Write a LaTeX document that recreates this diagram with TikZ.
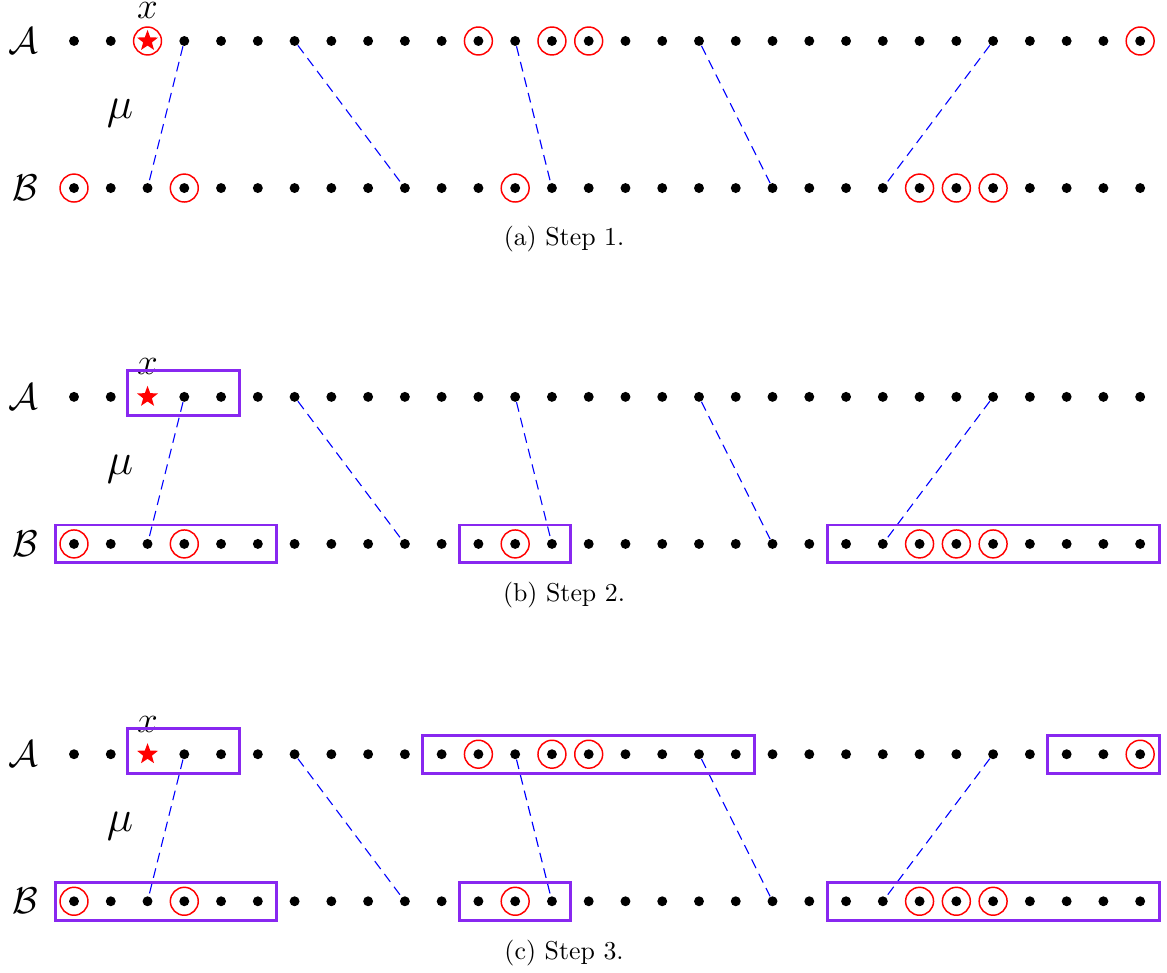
\documentclass[tikz,border=0pt]{standalone}
\usepackage{tikz}
\usetikzlibrary{calc,fit,shapes.geometric}
\definecolor{grpviolet}{RGB}{136,40,240}
\tikzset{
	pt/.style={circle, fill=black, inner sep=0pt, minimum size=0.135cm},
	ring/.style={circle, draw=red, line width=0.2mm, inner sep=0pt, minimum size=0.38cm},
	starpt/.style={star, star points=5, star point ratio=2.4, fill=red, inner sep=0pt, minimum size=0.3cm},
	match/.style={color=blue, line width=0.15mm, dash pattern=on 3.8pt off 2.4pt},
	grp/.style={draw=grpviolet, line width=0.4mm, inner sep=0.1825cm},
	setlbl/.style={font=\Large},
	ptlbl/.style={font=\Large, inner sep=0pt},
	maplbl/.style={font=\LARGE},
}

\begin{document}
\begin{tikzpicture}[x=0.5cm, y=0.5cm]
		%%%%% START %%%%%
		\useasboundingbox (-2.013, 1.115) rectangle (29.73, -25.33);
		
		\foreach \s/\y/\t in {1/0/a, 2/-9.68/b, 3/-19.4/c}{
			% the two rows
			\foreach \i in {0,...,29}{
				\ifnum\i=2
					\node[starpt] (a\s-\i) at (\i, \y) {};
				\else
					\node[pt] (a\s-\i) at (\i, \y) {};
				\fi
				\node[pt] (b\s-\i) at (\i, \y-4) {};
			}
			\node[setlbl] (la\s) at (-1.37, \y) {$\mathcal{A}$};
			\node[setlbl] (lb\s) at (-1.33, \y-4) {$\mathcal{B}$};
			\node[ptlbl] (x\s) at (2, \y+0.82) {$x$};
			\node[maplbl] (mu\s) at (1.25, \y-1.96) {$\mu$};
			
			% matching
			\draw[match] (a\s-3) -- (b\s-2);
			\draw[match] (a\s-6) -- (b\s-9);
			\draw[match] (a\s-12) -- (b\s-13);
			\draw[match] (a\s-17) -- (b\s-19);
			\draw[match] (a\s-25) -- (b\s-22);
			
			\foreach \i in {0,3,12,23,24,25}
				\node[ring] (rb\s-\i) at (b\s-\i) {};
			
			\node (cap\s) at (13.33, \y-5.4) {(\t) Step \s.};
		}
		
		% step 1
		\node[ring] (ra1-2) at (a1-2) {};
		\foreach \i in {11,13,14,29}
			\node[ring] (ra1-\i) at (a1-\i) {};
		
		% step 2
		\node[grp, fit=(a2-2)(a2-4)] (ga2-1) {};
		\node[grp, fit=(b2-0)(b2-5)] (gb2-1) {};
		\node[grp, fit=(b2-11)(b2-13)] (gb2-2) {};
		\node[grp, fit=(b2-21)(b2-29)] (gb2-3) {};
		
		% step 3
		\foreach \i in {11,13,14,29}
			\node[ring] (ra3-\i) at (a3-\i) {};
		\node[grp, fit=(a3-2)(a3-4)] (ga3-1) {};
		\node[grp, fit=(a3-10)(a3-18)] (ga3-2) {};
		\node[grp, fit=(a3-27)(a3-29)] (ga3-3) {};
		\node[grp, fit=(b3-0)(b3-5)] (gb3-1) {};
		\node[grp, fit=(b3-11)(b3-13)] (gb3-2) {};
		\node[grp, fit=(b3-21)(b3-29)] (gb3-3) {};
		
		%%%%% END %%%%%
\end{tikzpicture}
\end{document}
